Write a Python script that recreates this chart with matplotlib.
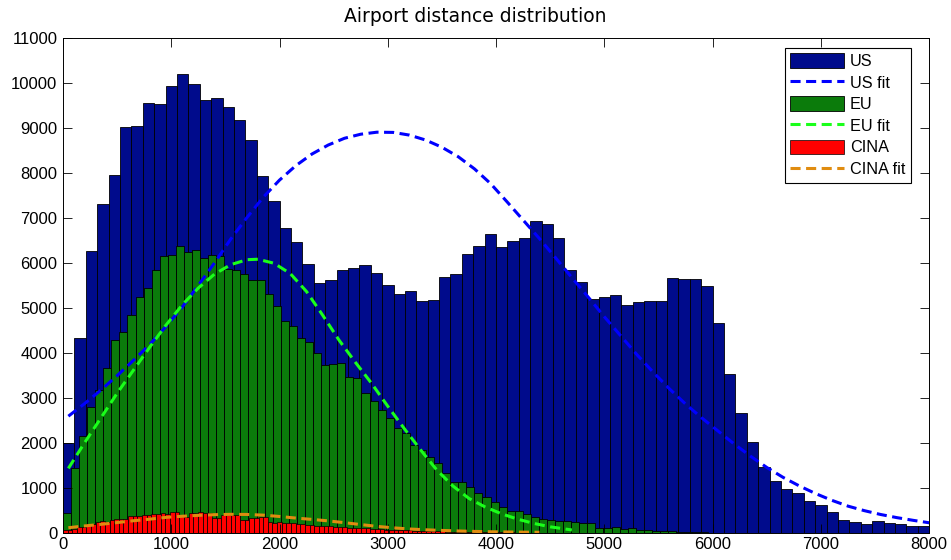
import numpy as np
import matplotlib
matplotlib.use("Agg")
import matplotlib.pyplot as plt

# histogram counts per bin (US, EU, CINA), bins start at 0
us_counts = [2000, 4330, 6260, 7310, 7950, 9020, 9050, 9560, 9540, 9930,
             10200, 9980, 9610, 9670, 9470, 9170, 8730, 7935, 7375, 6770,
             6470, 5975, 5545, 5615, 5840, 5885, 5950, 5770, 5515, 5310,
             5375, 5145, 5170, 5680, 5745, 6205, 6375, 6650, 6345, 6495,
             6560, 6930, 6865, 6560, 5840, 5570, 5205, 5240, 5280, 5055,
             5125, 5145, 5145, 5655, 5635, 5635, 5490, 4655, 3520, 2660,
             2010, 1455, 1155, 970, 890, 710, 615, 467, 290, 238,
             193, 250, 215, 200, 155, 140]

eu_counts = [431, 1430, 2150, 2800, 3170, 3660, 4280, 4460, 4840, 5250,
             5450, 5830, 6150, 6180, 6380, 6250, 6290, 6100, 6180, 6150,
             5860, 5840, 5750, 5620, 5620, 5300, 5040, 4710, 4600, 4320,
             4230, 3990, 3730, 3740, 3780, 3470, 3450, 3110, 2930, 2730,
             2560, 2320, 2210, 1950, 1840, 1680, 1540, 1330, 1130, 1130,
             1010, 890, 800, 690, 580, 480, 480, 420, 340, 300,
             290, 270, 250, 240, 220, 220, 105, 105, 130, 75,
             100, 60, 60, 45, 40, 30, 25, 20, 15, 10]

cina_counts = [50, 60, 90, 120, 135, 190, 200, 240, 250, 245,
               290, 300, 300, 295, 360, 370, 380, 390, 385, 410,
               405, 430, 420, 460, 465, 360, 355, 440, 445, 450,
               445, 440, 320, 330, 390, 395, 385, 390, 280, 285,
               320, 325, 340, 345, 245, 222, 230, 215, 220, 225,
               193, 190, 171, 175, 150, 145, 155, 148, 133, 130,
               120, 110, 115, 100, 105, 95, 90, 85, 75, 70,
               65, 60, 62, 55, 50, 48, 45, 40, 38, 35,
               30, 28, 25, 22, 20, 22, 18, 15, 15, 12,
               10, 10, 8, 8, 6, 5, 4, 3, 2, 2]

# fitted curves, sampled along the distance axis
us_fit_x = [50, 200, 350, 500, 650, 800, 950, 1100, 1250, 1400, 1550, 1700,
            1850, 2000, 2150, 2300, 2450, 2600, 2750, 2900, 3050, 3200, 3350,
            3500, 3650, 3800, 3950, 4100, 4250, 4400, 4550, 4700, 4850, 5000,
            5150, 5300, 5450, 5600, 5750, 5900, 6050, 6200, 6350, 6500, 6650,
            6800, 6950, 7100, 7250, 7400, 7550, 7700, 7850, 8000]
us_fit_y = [2590, 2870, 3170, 3490, 3830, 4180, 4580, 5010, 5500, 6000, 6530, 7010,
            7460, 7840, 8160, 8420, 8620, 8770, 8860, 8905, 8900, 8840, 8730,
            8570, 8360, 8090, 7760, 7360, 6950, 6540, 6110, 5670, 5240, 4800,
            4380, 3960, 3570, 3200, 2860, 2550, 2260, 1970, 1700, 1450, 1230,
            1040, 870, 720, 590, 490, 405, 335, 275, 220]

eu_fit_x = [50, 200, 350, 500, 650, 800, 950, 1100, 1250, 1400, 1550, 1700,
            1800, 1950, 2100, 2250, 2400, 2550, 2700, 2850, 3000, 3150, 3300,
            3450, 3600, 3750, 3900, 4050, 4200, 4350, 4500, 4700]
eu_fit_y = [1430, 2000, 2550, 3100, 3610, 4120, 4610, 5060, 5440, 5750, 5960, 6070,
            6080, 5990, 5760, 5360, 4830, 4280, 3790, 3320, 2810, 2320, 1850,
            1400, 1040, 760, 570, 420, 300, 205, 130, 60]

cina_fit_x = [50, 200, 350, 500, 650, 800, 950, 1100, 1250, 1400, 1550, 1700,
              1850, 2000, 2150, 2300, 2450, 2600, 2750, 2900, 3050, 3200, 3350,
              3500, 3650, 3800, 3950, 4100, 4250, 4400]
cina_fit_y = [110, 150, 185, 225, 265, 300, 340, 365, 385, 400, 408, 405,
              390, 360, 325, 295, 262, 222, 180, 140, 108, 82, 64,
              50, 38, 28, 20, 15, 11, 8]

US_BIN = 8000 / 76
EU_BIN = 74.5
CINA_BIN = 43
FONT = 'Liberation Sans'

fig = plt.figure(figsize=(9.51, 5.6), dpi=100)
ax = fig.add_axes([0.0662, 0.0488, 0.9109, 0.8834])

b_us = ax.bar(np.arange(len(us_counts)) * US_BIN, us_counts, width=US_BIN, align='edge',
              color='#000b8c', edgecolor='black', linewidth=0.6)
b_eu = ax.bar(np.arange(len(eu_counts)) * EU_BIN, eu_counts, width=EU_BIN, align='edge',
              color='#0b7b0b', edgecolor='black', linewidth=0.6)
b_cn = ax.bar(np.arange(len(cina_counts)) * CINA_BIN, cina_counts, width=CINA_BIN, align='edge',
              color='#ff0000', edgecolor='black', linewidth=0.5)

dash = dict(linewidth=2.2, dashes=(3.3, 1.8), dash_joinstyle='round', dash_capstyle='butt')
l_us, = ax.plot(us_fit_x, us_fit_y, color='#0000ff', **dash)
l_eu, = ax.plot(eu_fit_x, eu_fit_y, color='#1aff1a', **dash)
l_cn, = ax.plot(cina_fit_x, cina_fit_y, color='#e08c10', **dash)

ax.set_xlim(0, 8000)
ax.set_ylim(0, 11000)
ax.set_xticks(range(0, 8001, 1000))
ax.set_yticks(range(0, 11001, 1000))
ax.tick_params(direction='in', length=6.3, width=0.6, top=True, right=True, labelsize=12)
ax.tick_params(axis='x', pad=3)
ax.tick_params(axis='y', pad=4)
for lab in ax.get_xticklabels() + ax.get_yticklabels():
    lab.set_fontfamily(FONT)
for s in ax.spines.values():
    s.set_linewidth(0.7)

leg = ax.legend([b_us, l_us, b_eu, l_eu, b_cn, l_cn],
                ['US', 'US fit', 'EU', 'EU fit', 'CINA', 'CINA fit'],
                loc='upper right', bbox_to_anchor=(910.7 / 951, 1 - 47.5 / 560),
                bbox_transform=fig.transFigure, fancybox=False, framealpha=1,
                edgecolor='black', handlelength=3.3, handleheight=0.98,
                labelspacing=0.36, handletextpad=0.35, borderpad=0.35,
                borderaxespad=0, prop={'family': FONT, 'size': 11.7})
leg.get_frame().set_linewidth(0.8)

fig.text(0.5, 1 - 17 / 560, 'Airport distance distribution', ha='center', va='center',
         fontsize=13.5, family='DejaVu Sans')

fig.savefig('out.png', dpi=100)
